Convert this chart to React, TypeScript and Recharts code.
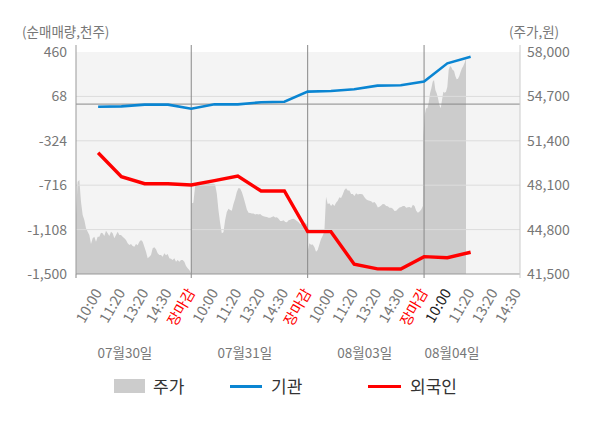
import React from 'react';
import { ComposedChart, Area, Line, XAxis, YAxis, ReferenceLine, ReferenceArea } from 'recharts';

const timeLabels = ['10:00', '11:20', '13:20', '14:30', '장마감'];
const timeTicks = [0.05, 1, 2, 3, 4, 5, 6, 7, 8, 9, 10, 11, 12, 13, 14, 15, 16, 17, 18, 19, 19.12];
const dayLabels = ['07월30일', '07월31일', '08월03일', '08월04일'];
const dayLabelPos = [2.15, 7.3, 12.45, 16.2];
const dayBoundaries = [5, 10, 15];
const leftTicks = [-1500, -1108, -716, -324, 68, 460];
const rightTicks = [41500, 44800, 48100, 51400, 54700, 58000];

const flowSlots = [1, 2, 3, 4, 5, 6, 7, 8, 9, 10, 11, 12, 13, 14, 15, 16, 17];
const institution = [-23, -20, -5, -5, -41, -2, -2, 16, 21, 110, 116, 131, 163, 166, 200, 360, 419];
const foreign = [-429, -641, -703, -703, -714, -676, -635, -767, -767, -1126, -1126, -1414, -1455, -1456, -1347, -1356, -1308];

const day1Price = [
  45885, 48362, 48486, 46876, 45885, 45514, 44895, 44647, 44399, 43730,
  44152, 44275, 43904, 44275, 44275, 44573, 44523, 44325, 44721, 44523,
  44325, 44647, 44523, 44152, 44399, 44647, 44399, 44399, 44275, 44152,
  44028, 43780, 43656, 43730, 43582, 43532, 43730, 43631, 43904, 44028,
  43904, 43532, 43161, 42665, 42789, 42913, 43409, 43483, 43334, 43037,
  42913, 42913, 42789, 43037, 42888, 42987, 42665, 42640, 42541, 42665,
  42418, 42541, 42418, 42541, 42541, 42418, 42096, 41922, 41798, 41550,
];
const day2Price = [
  46750, 46800, 48000, 48260, 48330, 48300, 48260, 48230, 48300, 48200,
  48250, 48200, 48200, 48200, 48150, 47500, 46250, 45300, 44520, 44600,
  45500, 46100, 46350, 46250, 46200, 46700, 47100, 47600, 47900, 47850,
  47600, 47200, 46750, 46300, 46050, 46040, 46000, 45990, 45930, 45960,
  45930, 45960, 45850, 45790, 45750, 45740, 45680, 45680, 45740, 45790,
  45700, 45710, 45610, 45440, 45430, 45490, 45370, 45340, 45500, 45540,
  45590, 45600, 45540, 45440, 45340, 45200, 45280, 45350, 45290, 45200,
];
const day3Price = [
  43160, 43780, 43680, 43700, 43500, 43150, 43285, 43700, 44100, 44350,
  44650, 47250, 46700, 46750, 46550, 46700, 46550, 46800, 46950, 47200,
  47150, 47400, 47750, 47870, 47700, 47700, 47450, 47450, 47300, 47500,
  47400, 47450, 47450, 47400, 47200, 47050, 46980, 46950, 46900, 46800,
  46850, 46700, 46450, 46500, 46600, 46700, 46680, 46550, 46530, 46430,
  46420, 46350, 46180, 46200, 46330, 46450, 46480, 46560, 46550, 46430,
  46460, 46480, 46400, 46650, 46550, 46200, 46050, 46150, 46300, 46550,
];
const day4Price = [
  51710, 53320, 53810, 53810, 54230, 54930, 55300, 55790, 55920, 55180,
  54930, 54560, 54060, 53810, 54430, 55050, 54980, 55050, 55420, 56660,
  56960, 56860, 56660, 56610, 56220, 55970, 56020, 56220, 56540, 56790,
  56960, 57210, 57530,
];
const dayRanges = [
  [0.05, 4.99],
  [5.02, 9.97],
  [10.0, 14.95],
  [14.97, 16.8],
];

const priceDays = [day1Price, day2Price, day3Price, day4Price];
const priceData = priceDays.flatMap((arr, d) =>
  arr.map((p, i) => ({
    t: dayRanges[d][0] + ((dayRanges[d][1] - dayRanges[d][0]) * i) / (arr.length - 1),
    price: p,
  }))
);
const flowData = flowSlots.map((t, i) => ({ t, inst: institution[i], foreign: foreign[i] }));
const allTicks = [...timeTicks, ...dayLabelPos];

const fmt = (v: number) => v.toLocaleString('en-US');
const FONT = "'Noto Sans CJK KR', 'Noto Sans', sans-serif";

function TimeTick(props: any) {
  const { x, y, payload } = props;
  const v = payload.value as number;
  const dayIdx = dayLabelPos.indexOf(v);
  if (dayIdx >= 0) {
    return (
      <text x={x} y={y + 80} textAnchor="middle" fill="#777" fontSize={13.5} fontFamily={FONT}>
        {dayLabels[dayIdx]}
      </text>
    );
  }
  const isEdge = v < 0.5 || v > 19.05;
  const k = Math.round(v);
  const boundary = isEdge || k % 5 === 0;
  const label = isEdge ? '' : timeLabels[(k - 1) % 5];
  const color = label === '장마감' ? '#ff0000' : k === 16 ? '#222' : '#777';
  const ay = y + 12;
  return (
    <g>
      {boundary && (
        <line x1={x} x2={x} y1={y - 4} y2={y} stroke={v > 19.05 ? '#ccc' : '#888'} strokeWidth={1} />
      )}
      {label && (
        <text
          x={x}
          y={ay}
          dy={5}
          textAnchor="end"
          transform={`rotate(-60 ${x} ${ay})`}
          fill={color}
          fontSize={14.5}
          fontFamily={FONT}
        >
          {label}
        </text>
      )}
    </g>
  );
}

export default function App() {
  return (
    <div style={{ position: 'absolute', left: 0, top: 0, width: 600, height: 428, fontFamily: FONT, background: '#fff' }}>
      <ComposedChart width={600} height={428} margin={{ top: 45, right: 0, bottom: 60, left: 0 }}>
        <XAxis
          xAxisId="time"
          type="number"
          dataKey="t"
          domain={[0.05, 19.12]}
          allowDataOverflow
          ticks={allTicks}
          interval={0}
          tick={<TimeTick />}
          tickLine={false}
          tickSize={4}
          tickMargin={0}
          axisLine={{ stroke: '#999' }}
          height={94}
        />
        <YAxis
          yAxisId="left"
          orientation="left"
          type="number"
          domain={[-1500, 521.8]}
          allowDataOverflow
          ticks={leftTicks}
          interval={0}
          tickFormatter={fmt}
          tick={{ fill: '#777', fontSize: 14, fontFamily: FONT }}
          tickLine={false}
          tickMargin={3}
          axisLine={{ stroke: '#999' }}
          width={76}
        />
        <YAxis
          yAxisId="right"
          orientation="right"
          type="number"
          domain={[41500, 58520]}
          allowDataOverflow
          ticks={rightTicks}
          interval={0}
          tickFormatter={fmt}
          tick={{ fill: '#777', fontSize: 14, fontFamily: FONT }}
          tickLine={false}
          tickMargin={1}
          axisLine={{ stroke: '#ccc' }}
          width={80}
        />
        <ReferenceArea
          xAxisId="time"
          yAxisId="left"
          y1={-1500}
          y2={460}
          fill="#f4f4f4"
          fillOpacity={1}
          stroke="none"
          zIndex={-150}
        />
        <Area
          xAxisId="time"
          yAxisId="right"
          data={priceData}
          dataKey="price"
          type="linear"
          stroke="none"
          fill="#cccccc"
          fillOpacity={1}
          isAnimationActive={false}
          dot={false}
          activeDot={false}
        />
        {leftTicks.slice(1, 5).map((v) => (
          <ReferenceLine key={`g${v}`} xAxisId="time" yAxisId="left" y={v} stroke="#dcdcdc" strokeWidth={1} zIndex={150} />
        ))}
        <ReferenceLine xAxisId="time" yAxisId="left" y={0} stroke="#888" strokeWidth={1} zIndex={160} />
        {dayBoundaries.map((v) => (
          <ReferenceLine key={`d${v}`} xAxisId="time" yAxisId="left" x={v} stroke="#888" strokeWidth={1} zIndex={160} />
        ))}
        <Line
          xAxisId="time"
          yAxisId="left"
          data={flowData}
          dataKey="inst"
          type="linear"
          stroke="#0a85d2"
          strokeWidth={2.6}
          dot={false}
          activeDot={false}
          isAnimationActive={false}
        />
        <Line
          xAxisId="time"
          yAxisId="left"
          data={flowData}
          dataKey="foreign"
          type="linear"
          stroke="#ff0000"
          strokeWidth={3.4}
          dot={false}
          activeDot={false}
          isAnimationActive={false}
        />
      </ComposedChart>

      <div style={{ position: 'absolute', left: 22, top: 24, fontSize: 13.5, lineHeight: '15px', color: '#777', whiteSpace: 'nowrap' }}>
        (순매매량,천주)
      </div>
      <div style={{ position: 'absolute', left: 509, top: 24, fontSize: 13.5, lineHeight: '15px', color: '#777', whiteSpace: 'nowrap' }}>
        (주가,원)
      </div>

      <div style={{ position: 'absolute', left: 114, top: 379, width: 31, height: 14, background: '#cccccc' }} />
      <div style={{ position: 'absolute', left: 153, top: 374, fontSize: 17, lineHeight: '24px', color: '#333', whiteSpace: 'nowrap' }}>주가</div>
      <div style={{ position: 'absolute', left: 230, top: 385, width: 32, height: 3, background: '#0a85d2' }} />
      <div style={{ position: 'absolute', left: 271, top: 374, fontSize: 17, lineHeight: '24px', color: '#333', whiteSpace: 'nowrap' }}>기관</div>
      <div style={{ position: 'absolute', left: 368, top: 385, width: 33, height: 3, background: '#ff0000' }} />
      <div style={{ position: 'absolute', left: 410, top: 374, fontSize: 17, lineHeight: '24px', color: '#333', whiteSpace: 'nowrap' }}>외국인</div>
    </div>
  );
}
